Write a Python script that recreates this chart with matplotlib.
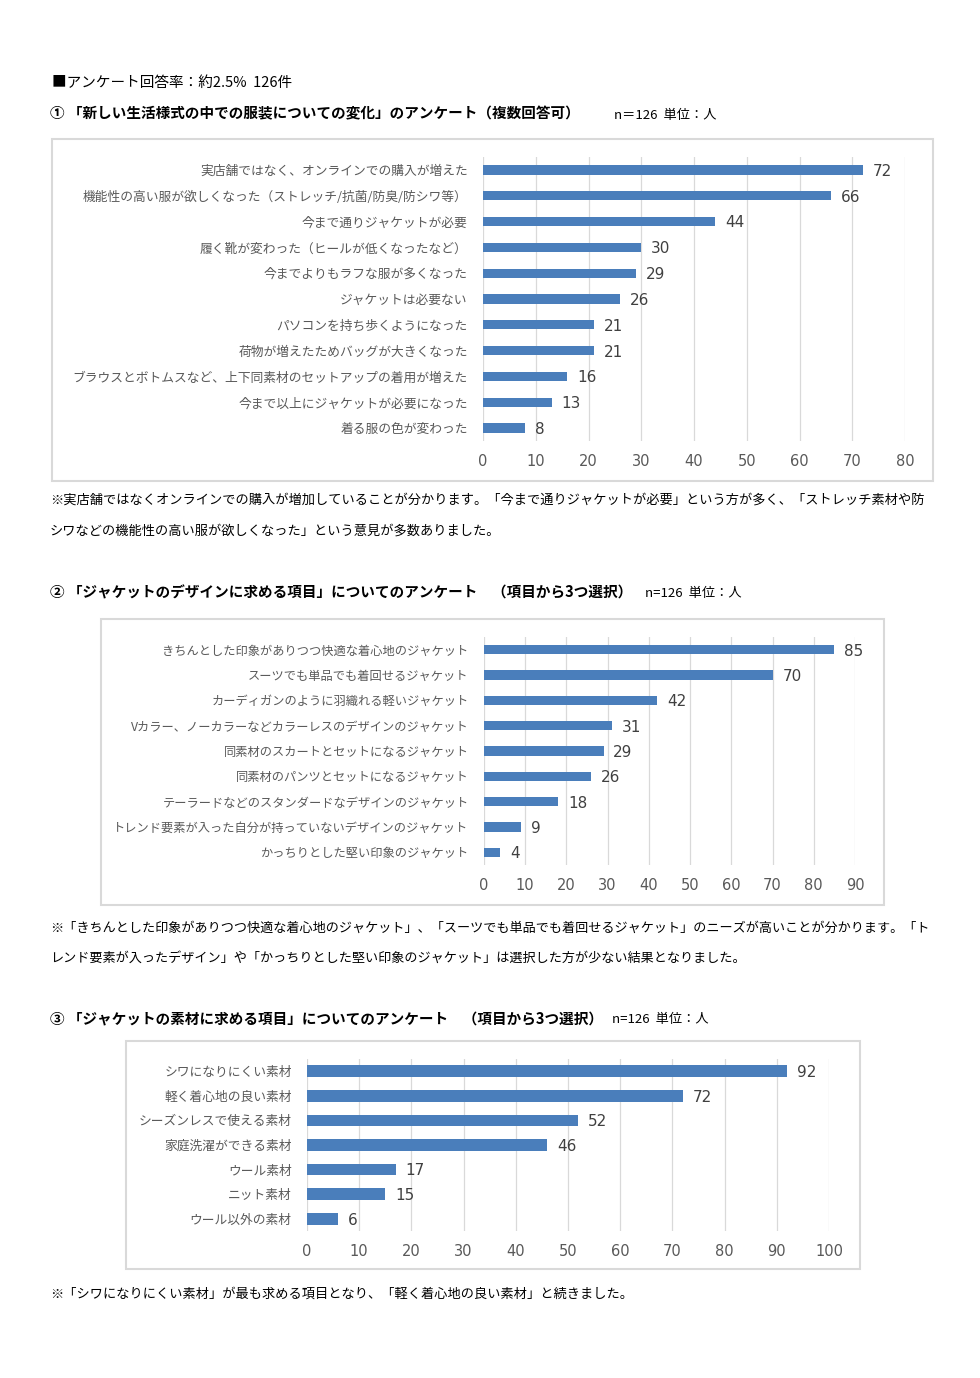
import matplotlib
matplotlib.use("Agg")
import matplotlib.pyplot as plt
from matplotlib.patches import Rectangle

plt.rcParams['font.family'] = ['Noto Sans CJK JP', 'DejaVu Sans']

# --- data -------------------------------------------------------------
q1_labels = [
    "実店舗ではなく、オンラインでの購入が増えた",
    "機能性の高い服が欲しくなった（ストレッチ/抗菌/防臭/防シワ等）",
    "今まで通りジャケットが必要",
    "履く靴が変わった（ヒールが低くなったなど）",
    "今までよりもラフな服が多くなった",
    "ジャケットは必要ない",
    "パソコンを持ち歩くようになった",
    "荷物が増えたためバッグが大きくなった",
    "ブラウスとボトムスなど、上下同素材のセットアップの着用が増えた",
    "今まで以上にジャケットが必要になった",
    "着る服の色が変わった",
]
q1_values = [72, 66, 44, 30, 29, 26, 21, 21, 16, 13, 8]
q1_ticks = [0, 10, 20, 30, 40, 50, 60, 70, 80]

q2_labels = [
    "きちんとした印象がありつつ快適な着心地のジャケット",
    "スーツでも単品でも着回せるジャケット",
    "カーディガンのように羽織れる軽いジャケット",
    "Vカラー、ノーカラーなどカラーレスのデザインのジャケット",
    "同素材のスカートとセットになるジャケット",
    "同素材のパンツとセットになるジャケット",
    "テーラードなどのスタンダードなデザインのジャケット",
    "トレンド要素が入った自分が持っていないデザインのジャケット",
    "かっちりとした堅い印象のジャケット",
]
q2_values = [85, 70, 42, 31, 29, 26, 18, 9, 4]
q2_ticks = [0, 10, 20, 30, 40, 50, 60, 70, 80, 90]

q3_labels = [
    "シワになりにくい素材",
    "軽く着心地の良い素材",
    "シーズンレスで使える素材",
    "家庭洗濯ができる素材",
    "ウール素材",
    "ニット素材",
    "ウール以外の素材",
]
q3_values = [92, 72, 52, 46, 17, 15, 6]
q3_ticks = [0, 10, 20, 30, 40, 50, 60, 70, 80, 90, 100]

BAR = "#4A7EBB"
GRID = "#D9D9D9"
LABEL = "#595959"
VALUE = "#404040"
NUM_FONT = ['DejaVu Sans']
HEAD_SIZE = 10.5

W, H = 980, 1378
fig = plt.figure(figsize=(W / 100, H / 100), dpi=100)
fig.patch.set_facecolor("white")


def px_axes(left, top, right, bottom):
    return fig.add_axes([left / W, 1 - bottom / H, (right - left) / W, (bottom - top) / H])


def frame(left, top, right, bottom):
    fig.add_artist(Rectangle((left / W, 1 - bottom / H), (right - left) / W, (bottom - top) / H,
                             transform=fig.transFigure, fill=False, edgecolor=GRID, lw=1.5))


def ftext(x, y, s, **kw):
    kw.setdefault("color", "black")
    kw.setdefault("va", "center")
    fig.text(x / W, 1 - y / H, s, **kw)


def bar_chart(ax, labels, values, ticks, height, label_size):
    pos = list(range(len(labels)))
    ax.barh(pos, values, height=height, color=BAR, zorder=3)
    ax.set_xlim(ticks[0], ticks[-1])
    ax.set_ylim(len(labels) - 0.5, -0.5)
    ax.set_xticks(ticks)
    ax.set_xticklabels([str(t) for t in ticks], family=NUM_FONT, fontsize=10.5, color=LABEL)
    ax.set_yticks(pos)
    ax.set_yticklabels(labels, fontsize=label_size, color=LABEL)
    ax.tick_params(axis="x", length=0, pad=9)
    ax.tick_params(axis="y", length=0, pad=11)
    ax.grid(axis="x", color=GRID, lw=0.9, zorder=0)
    for s in ax.spines.values():
        s.set_visible(False)
    for p, v in zip(pos, values):
        ax.annotate(str(v), (v, p), xytext=(7, -1), textcoords="offset points",
                    ha="left", va="center", fontsize=11, color=VALUE, family=NUM_FONT)


# header
ftext(52, 83, "■アンケート回答率：約2.5%  126件", fontsize=10.5)

# chart 1
ftext(50, 113, "① 「新しい生活様式の中での服装についての変化」のアンケート（複数回答可）",
      fontsize=HEAD_SIZE, fontweight="bold")
ftext(614, 115, "n＝126  単位：人", fontsize=9.5)
frame(52, 139, 933, 481)
ax1 = px_axes(483, 157, 905, 441)
bar_chart(ax1, q1_labels, q1_values, q1_ticks, 0.36, 9.2)
ftext(50, 500, "※実店舗ではなくオンラインでの購入が増加していることが分かります。「今まで通りジャケットが必要」という方が多く、「ストレッチ素材や防",
      fontsize=9.5)
ftext(50, 531, "シワなどの機能性の高い服が欲しくなった」という意見が多数ありました。", fontsize=9.5)

# chart 2
ftext(50, 592, "② 「ジャケットのデザインに求める項目」についてのアンケート　（項目から3つ選択）",
      fontsize=HEAD_SIZE, fontweight="bold")
ftext(645, 593, "n=126  単位：人", fontsize=9.5)
frame(101, 619, 884, 905)
ax2 = px_axes(484, 637, 855, 865)
bar_chart(ax2, q2_labels, q2_values, q2_ticks, 0.36, 8.8)
ftext(50, 928, "※「きちんとした印象がありつつ快適な着心地のジャケット」、「スーツでも単品でも着回せるジャケット」のニーズが高いことが分かります。「ト",
      fontsize=9.45)
ftext(50, 958, "レンド要素が入ったデザイン」や「かっちりとした堅い印象のジャケット」は選択した方が少ない結果となりました。", fontsize=9.45)

# chart 3
ftext(50, 1019, "③ 「ジャケットの素材に求める項目」についてのアンケート　（項目から3つ選択）",
      fontsize=HEAD_SIZE, fontweight="bold")
ftext(612, 1020, "n=126  単位：人", fontsize=9.5)
frame(126, 1041, 860, 1269)
ax3 = px_axes(307, 1059, 829, 1231)
bar_chart(ax3, q3_labels, q3_values, q3_ticks, 0.48, 9.2)
ftext(50, 1294, "※「シワになりにくい素材」が最も求める項目となり、「軽く着心地の良い素材」と続きました。", fontsize=9.5)

fig.savefig("out.png", dpi=100, facecolor="white")
